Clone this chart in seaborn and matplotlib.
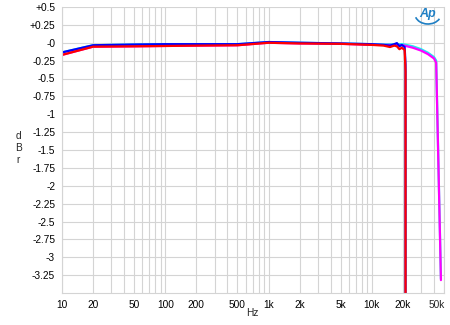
import matplotlib
matplotlib.use("Agg")
import matplotlib.pyplot as plt
import matplotlib.ticker as mticker
import matplotlib.transforms as mtrans
from matplotlib.patches import Arc
import seaborn as sns
import pandas as pd

# ---- data ----
freq_44 = [10, 20, 50, 100, 200, 500, 1000, 2000, 5000, 10000, 13000, 15000,
           16500, 17500, 18500, 19500, 20800, 21200, 21200]
blue = [-0.135, -0.035, -0.025, -0.02, -0.02, -0.02, 0.01, 0.0, -0.01, -0.02,
        -0.03, -0.04, -0.02, -0.005, -0.05, -0.03, -0.06, -0.3, -4.0]
red = [-0.17, -0.055, -0.05, -0.045, -0.04, -0.035, 0.0, -0.01, -0.015, -0.03,
       -0.04, -0.06, -0.04, -0.05, -0.09, -0.07, -0.1, -0.4, -4.0]

freq_96 = [10, 20, 50, 100, 200, 500, 1000, 2000, 5000, 10000, 15000, 20000,
           25000, 30000, 35000, 40000, 42000, 46700]
cyan = [-0.135, -0.035, -0.025, -0.02, -0.02, -0.02, 0.01, 0.0, -0.01, -0.02,
        -0.02, -0.02, -0.05, -0.09, -0.14, -0.2, -0.25, -3.3]
magenta = [-0.17, -0.055, -0.05, -0.045, -0.04, -0.035, 0.0, -0.01, -0.015, -0.03,
           -0.03, -0.035, -0.07, -0.11, -0.16, -0.22, -0.28, -3.32]

x_ticks = [10, 20, 50, 100, 200, 500, 1000, 2000, 5000, 10000, 20000, 50000]
x_labels = ["10", "20", "50", "100", "200", "500", "1k", "2k", "5k", "10k", "20k", "50k"]
y_ticks = [0.5, 0.25, 0, -0.25, -0.5, -0.75, -1, -1.25, -1.5, -1.75, -2, -2.25,
           -2.5, -2.75, -3, -3.25]
y_labels = ["+0.5", "+0.25", "-0", "-0.25", "-0.5", "-0.75", "-1", "-1.25", "-1.5",
            "-1.75", "-2", "-2.25", "-2.5", "-2.75", "-3", "-3.25"]

sns.set_theme(style="white")
plt.rcParams["font.family"] = ["Liberation Sans", "DejaVu Sans"]

fig = plt.figure(figsize=(4.5, 3.25), dpi=100)
ax = fig.add_axes([62 / 450, 1 - 293 / 325, (444 - 62) / 450, (293 - 7) / 325])

series = [
    (freq_96, cyan, "#22e6f0"),
    (freq_96, magenta, "#ff00ff"),
    (freq_44, blue, "#0000ff"),
    (freq_44, red, "#ff0000"),
]
for f, v, c in series:
    df = pd.DataFrame({"f": f, "v": v})
    sns.lineplot(data=df, x="f", y="v", ax=ax, color=c, lw=1.6, sort=False,
                 estimator=None)

ax.set_xscale("log")
ax.set_xlim(10, 50000)
ax.set_ylim(-3.5, 0.5)
ax.xaxis.set_minor_locator(mticker.LogLocator(base=10, subs=range(2, 10), numticks=20))
ax.xaxis.set_minor_formatter(mticker.NullFormatter())
ax.set_xticks(x_ticks)
# last label is drawn separately so that it stays inside the figure
ax.set_xticklabels(x_labels[:-1] + [""])
ax.set_yticks(y_ticks)
ax.set_yticklabels(y_labels)
ax.yaxis.set_minor_locator(mticker.MultipleLocator(0.05))

ax.grid(True, which="both", axis="x", color="#d4d4d4", lw=0.8)
ax.grid(True, which="major", axis="y", color="#d4d4d4", lw=0.8)
ax.tick_params(axis="both", which="both", labelsize=7.3, colors="#000000", length=0, pad=5)
ax.tick_params(axis="y", which="minor", length=3, color="#d8d8d8", direction="in")
ax.tick_params(axis="y", which="major", length=0)
for s in ax.spines.values():
    s.set_color("#d4d4d4")
    s.set_linewidth(0.8)
ax.spines["top"].set_visible(False)

trans = ax.get_xaxis_transform() + mtrans.ScaledTranslation(0, -5 / 72, fig.dpi_scale_trans)
ax.text(x_ticks[-1], 0, x_labels[-1], transform=trans + mtrans.ScaledTranslation(0.5 / 72, 0, fig.dpi_scale_trans),
        ha="right", va="top", fontsize=7.3)

ax.set_xlabel("")
ax.set_ylabel("")
fig.text(18 / 450, 1 - 148 / 325, "d\nB\nr", ha="center", va="center", fontsize=7.3,
         linespacing=1.3)
fig.text(252 / 450, 1 - 313 / 325, "Hz", ha="center", va="center", fontsize=7.3)

# logo
fig.text(428 / 450, 1 - 14 / 325, "Ap", ha="center", va="center", fontsize=9,
         color="#1f7fc4", style="italic", fontweight="bold")
arc = Arc((428 / 450, 1 - 14 / 325), 26 / 450, 20 / 325, theta1=200, theta2=330,
          transform=fig.transFigure, color="#1f7fc4", lw=1.2)
fig.add_artist(arc)

fig.savefig("out.png", dpi=100)
